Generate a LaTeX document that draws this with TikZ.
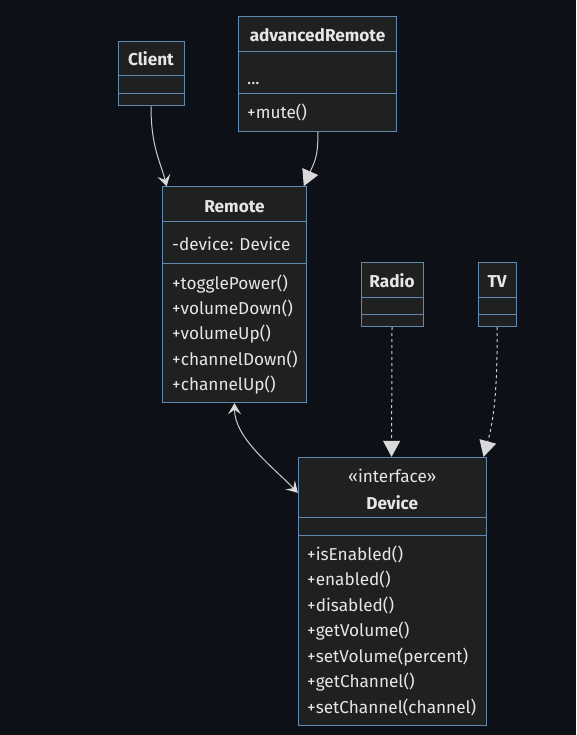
\documentclass[tikz,border=0pt]{standalone}
\usepackage{fontspec}
\setmainfont{Fira Sans}
\usetikzlibrary{arrows.meta,calc}
\definecolor{bgc}{HTML}{0D1117}
\definecolor{boxfill}{HTML}{1F2020}
\definecolor{boxline}{HTML}{6189B0}
\definecolor{txt}{HTML}{E6E6E6}
\definecolor{edge}{HTML}{CCCCCC}
\definecolor{tip}{HTML}{D9D9D9}
\tikzset{
  classbox/.style={draw=boxline, fill=boxfill, line width=1pt, inner sep=0pt},
  divider/.style={draw=boxline, line width=1pt},
  member/.style={anchor=base west, inner sep=0pt, text=txt, font=\fontsize{17.2}{20}\selectfont},
  ctitle/.style={anchor=base, inner sep=0pt, text=txt, font=\fontsize{17.2}{20}\selectfont\bfseries},
  cstereo/.style={anchor=base, inner sep=0pt, text=txt, font=\fontsize{17.2}{20}\selectfont},
  assoc/.style={draw=edge, line width=1pt, -{Stealth[length=11pt,width=13pt,inset=4.5pt,fill=tip,color=tip]}},
  bothassoc/.style={draw=edge, line width=1pt, {Stealth[length=11pt,width=13pt,inset=4.5pt,fill=tip,color=tip]}-{Stealth[length=11pt,width=13pt,inset=4.5pt,fill=tip,color=tip]}},
  inherit/.style={draw=edge, line width=1pt, -{Triangle[length=16pt,width=17pt,fill=tip,color=tip]}},
  realize/.style={inherit, dash pattern=on 3pt off 3pt},
}
\begin{document}
\begin{tikzpicture}[x=1pt,y=-1pt]
\fill[bgc] (0,0) rectangle (576,735);
\useasboundingbox (0,0) rectangle (576,735);

% Client
\node[classbox, minimum width=66pt, minimum height=64pt] (client) at (151,74) {};
\draw[divider] (118,76) -- (184,76);
\draw[divider] (118,94) -- (184,94);
\node[ctitle] (clientT) at (151,66) {Client};

% advancedRemote
\node[classbox, minimum width=157.6pt, minimum height=114.6pt] (adv) at (317.5,74) {};
\draw[divider] (238.7,51.3) -- (396.3,51.3);
\draw[divider] (238.7,94) -- (396.3,94);
\node[ctitle] (advT) at (317.5,41.5) {advancedRemote};
\node[member] (advA) at (247,84.5) {...};
\node[member] (advM) at (247,119) {+mute()};

% Remote
\node[classbox, minimum width=143.6pt, minimum height=216pt] (remote) at (234.5,294.7) {};
\draw[divider] (162.7,221) -- (306.3,221);
\draw[divider] (162.7,263.7) -- (306.3,263.7);
\node[ctitle] (remoteT) at (234.5,212) {Remote};
\node[member] (remoteA) at (172,250) {-device: Device};
\node[member] (remoteM1) at (172,289) {+togglePower()};
\node[member] (remoteM2) at (172,314.3) {+volumeDown()};
\node[member] (remoteM3) at (172,339.7) {+volumeUp()};
\node[member] (remoteM4) at (172,365.1) {+channelDown()};
\node[member] (remoteM5) at (172,390.5) {+channelUp()};

% Radio
\node[classbox, minimum width=62pt, minimum height=64pt] (radio) at (392,294.7) {};
\draw[divider] (361,297) -- (423,297);
\draw[divider] (361,314.7) -- (423,314.7);
\node[ctitle] (radioT) at (392,287.5) {Radio};

% TV
\node[classbox, minimum width=38.3pt, minimum height=64pt] (tv) at (497.2,294.7) {};
\draw[divider] (478,297) -- (516.3,297);
\draw[divider] (478,314.7) -- (516.3,314.7);
\node[ctitle] (tvT) at (497.2,287.5) {TV};

% Device
\node[classbox, minimum width=187.7pt, minimum height=267.7pt] (device) at (392.2,591.2) {};
\draw[divider] (298.3,517.3) -- (486,517.3);
\draw[divider] (298.3,535) -- (486,535);
\node[cstereo] (devS) at (392.2,482.5) {«interface»};
\node[ctitle] (devT) at (392.2,509) {Device};
\node[member] (devM1) at (307,560) {+isEnabled()};
\node[member] (devM2) at (307,585.5) {+enabled()};
\node[member] (devM3) at (307,611) {+disabled()};
\node[member] (devM4) at (307,636.5) {+getVolume()};
\node[member] (devM5) at (307,662) {+setVolume(percent)};
\node[member] (devM6) at (307,687.5) {+getChannel()};
\node[member] (devM7) at (307,713) {+setChannel(channel)};

% connectors
\draw[assoc] (client.south) .. controls ($(client.south)+(0,40)$) and ($(remote.north west)+(-2,-25)$) .. ($(remote.north west)+(4.5,0)$);
\draw[inherit] ($(adv.south)+(0.5,0)$) .. controls ($(adv.south)+(0.5,25)$) and ($(remote.north east)+(8,-25)$) .. ($(remote.north east)+(-3,0)$);
\draw[bothassoc] (remote.south) .. controls ($(remote.south)+(0,35)$) and ($(device.north west)+(-25,10)$) .. ($(device.north west)+(0,36)$);
\draw[realize] (radio.south) -- ($(device.north west)+(93.7,0)$);
\draw[realize] (tv.south) .. controls ($(tv.south)+(0,60)$) and ($(device.north east)+(8,-40)$) .. ($(device.north east)+(-3,0)$);
\end{tikzpicture}
\end{document}
